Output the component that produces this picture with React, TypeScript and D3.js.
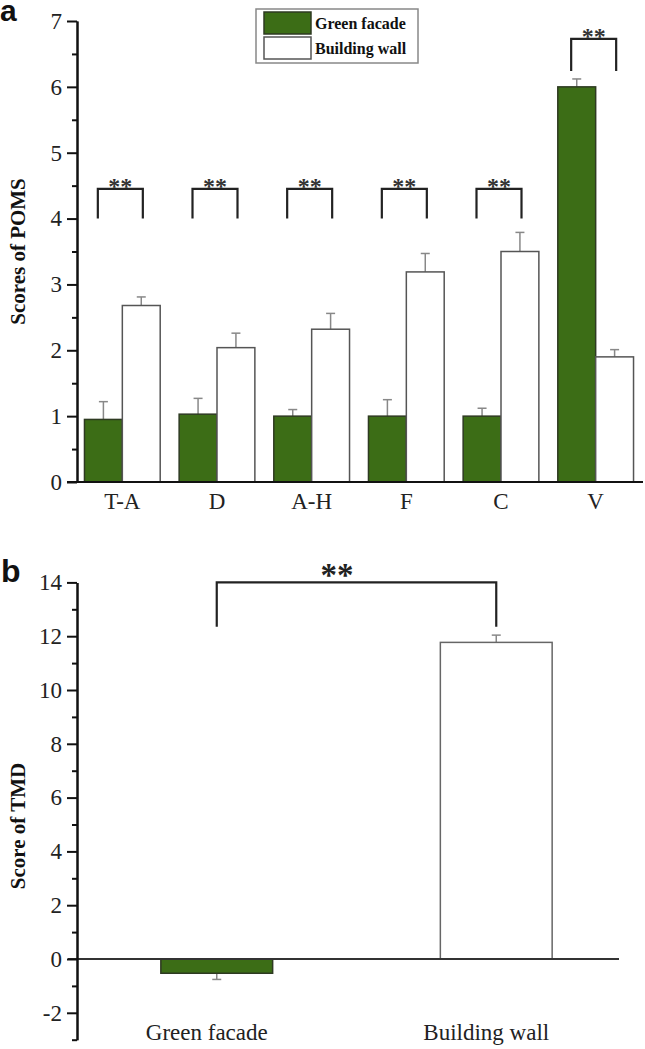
import { useEffect, useRef } from "react";
import * as d3 from "d3";

const WIDTH = 645;
const HEIGHT = 1049;

// panel a: POMS subscales
const poms = ["T-A", "D", "A-H", "F", "C", "V"];
const greenFacade = [0.95, 1.03, 1.0, 1.0, 1.0, 6.0];
const greenFacadeErr = [0.27, 0.24, 0.1, 0.25, 0.12, 0.12];
const buildingWall = [2.68, 2.04, 2.32, 3.19, 3.5, 1.9];
const buildingWallErr = [0.13, 0.22, 0.24, 0.28, 0.29, 0.11];
const bracketLow = [4.0, 4.0, 4.0, 4.0, 4.0, 6.24];
const bracketHigh = [4.45, 4.45, 4.45, 4.45, 4.45, 6.73];
const seriesNames = ["Green facade", "Building wall"];

// panel b: TMD
const tmdGroups = ["Green facade", "Building wall"];
const tmdValues = [-0.53, 11.77];
const tmdErr = [0.23, 0.27];
const tmdBracket = [12.35, 14];

const GREEN = "#3c6d16";
const SERIF = "'Liberation Serif', 'Times New Roman', serif";
const SANS = "'Liberation Sans', Arial, sans-serif";

const AXIS_X = 77;

export default function App() {
  const axisARef = useRef<SVGGElement>(null);
  const axisBRef = useRef<SVGGElement>(null);

  // Panel a scales
  const yA = d3.scaleLinear().domain([0, 7]).range([482, 21]);
  const xA = d3.scaleBand().domain(poms).range([75, 643]).paddingInner(0.2).paddingOuter(0.1);
  const subA = d3.scaleBand().domain(seriesNames).range([0, xA.bandwidth()]);

  // Panel b scales
  const yB = d3.scaleLinear().domain([-3, 14]).range([1039.7, 582.4]);
  const xB = d3.scaleBand().domain(tmdGroups).range([77, 636]).paddingInner(0.6).paddingOuter(0.3);

  useEffect(() => {
    const styleAxis = (sel: d3.Selection<SVGGElement, unknown, null, undefined>) => {
      sel.select(".domain").attr("stroke", "#111").attr("stroke-width", 2);
      sel.selectAll(".tick line").attr("stroke", "#111").attr("stroke-width", 2);
      sel
        .selectAll(".tick text")
        .attr("fill", "#222")
        .style("font-family", SERIF)
        .style("font-size", "23px");
    };

    const a = d3.select(axisARef.current);
    a.selectAll("*").remove();
    a.append("g")
      .call(d3.axisLeft(yA).tickValues(d3.range(0.5, 7, 1)).tickSize(5).tickSizeOuter(0).tickFormat(() => ""))
      .call(styleAxis);
    a.append("g")
      .call(d3.axisLeft(yA).tickValues(d3.range(0, 8, 1)).tickSize(10).tickSizeOuter(0).tickPadding(5).tickFormat((d) => String(d)))
      .call(styleAxis);

    const b = d3.select(axisBRef.current);
    b.selectAll("*").remove();
    b.append("g")
      .call(d3.axisLeft(yB).tickValues(d3.range(-3, 14, 2)).tickSize(5).tickSizeOuter(0).tickFormat(() => ""))
      .call(styleAxis);
    b.append("g")
      .call(d3.axisLeft(yB).tickValues(d3.range(-2, 15, 2)).tickSize(10).tickSizeOuter(0).tickPadding(5).tickFormat((d) => String(d)))
      .call(styleAxis);
  }, [yA, yB]);

  const barsA = poms.map((cat, i) => {
    const x0 = xA(cat) ?? 0;
    const vals = [greenFacade[i], buildingWall[i]];
    const errs = [greenFacadeErr[i], buildingWallErr[i]];
    return (
      <g key={cat}>
        {seriesNames.map((s, j) => {
          const bx = x0 + (subA(s) ?? 0);
          const cx = bx + subA.bandwidth() / 2;
          return (
            <g key={s}>
              <line x1={cx} x2={cx} y1={yA(vals[j])} y2={yA(vals[j] + errs[j])} stroke="#888" strokeWidth={1.5} />
              <line x1={cx - 4.5} x2={cx + 4.5} y1={yA(vals[j] + errs[j])} y2={yA(vals[j] + errs[j])} stroke="#888" strokeWidth={1.5} />
              <rect
                x={bx}
                y={yA(vals[j])}
                width={subA.bandwidth()}
                height={yA(0) - yA(vals[j])}
                fill={j === 0 ? GREEN : "#fff"}
                stroke={j === 0 ? "#2e3a22" : "#555"}
                strokeWidth={1.5}
              />
            </g>
          );
        })}
      </g>
    );
  });

  const bracketsA = poms.map((cat, i) => {
    const c = (xA(cat) ?? 0) + xA.bandwidth() / 2 - 2;
    const top = yA(bracketHigh[i]);
    const low = yA(bracketLow[i]);
    return (
      <g key={cat}>
        <path
          d={`M${c - 22.5},${low}V${top}H${c + 22.5}V${low}`}
          fill="none"
          stroke="#222"
          strokeWidth={2.2}
        />
        <text x={c} y={top + 5} textAnchor="middle" fontFamily={SERIF} fontWeight="bold" fontSize={24} fill="#333">
          **
        </text>
      </g>
    );
  });

  const barsB = tmdGroups.map((g, i) => {
    const bx = xB(g) ?? 0;
    const cx = bx + xB.bandwidth() / 2;
    const v = tmdValues[i];
    const ev = v < 0 ? v - tmdErr[i] : v + tmdErr[i];
    return (
      <g key={g}>
        <line x1={cx} x2={cx} y1={yB(v)} y2={yB(ev)} stroke="#888" strokeWidth={1.5} />
        <line x1={cx - 4.5} x2={cx + 4.5} y1={yB(ev)} y2={yB(ev)} stroke="#888" strokeWidth={1.5} />
        <rect
          x={bx}
          y={Math.min(yB(v), yB(0))}
          width={xB.bandwidth()}
          height={Math.abs(yB(v) - yB(0))}
          fill={i === 0 ? GREEN : "#fff"}
          stroke={i === 0 ? "#2e3a22" : "#666"}
          strokeWidth={1.5}
        />
      </g>
    );
  });

  const bL = (xB(tmdGroups[0]) ?? 0) + xB.bandwidth() / 2;
  const bR = (xB(tmdGroups[1]) ?? 0) + xB.bandwidth() / 2;

  return (
    <svg
      width={WIDTH}
      height={HEIGHT}
      style={{ position: "absolute", left: 0, top: 0, background: "#fff" }}
    >
      {/* panel a */}
      <text x={0} y={21} fontFamily={SANS} fontWeight="bold" fontSize={30} fill="#111">
        a
      </text>
      {barsA}
      {bracketsA}
      <line x1={67} x2={643} y1={yA(0)} y2={yA(0)} stroke="#111" strokeWidth={2} />
      <g ref={axisARef} transform={`translate(${AXIS_X},0)`} />
      {poms.map((cat) => (
        <text
          key={cat}
          x={(xA(cat) ?? 0) + xA.bandwidth() / 2}
          y={509}
          textAnchor="middle"
          fontFamily={SERIF}
          fontSize={23}
          fill="#222"
        >
          {cat}
        </text>
      ))}
      <text
        transform={`translate(25,${(yA(0) + yA(7)) / 2}) rotate(-90)`}
        textAnchor="middle"
        fontFamily={SERIF}
        fontWeight="bold"
        fontSize={21}
        fill="#111"
      >
        Scores of POMS
      </text>

      {/* legend */}
      <g>
        <rect x={256} y={9} width={162} height={54} fill="#fff" stroke="#888" strokeWidth={1.5} />
        {seriesNames.map((s, j) => (
          <g key={s}>
            <rect
              x={264}
              y={12 + j * 25}
              width={47}
              height={22}
              fill={j === 0 ? GREEN : "#fff"}
              stroke={j === 0 ? "#2e3a22" : "#555"}
              strokeWidth={1.5}
            />
            <text x={315} y={29 + j * 25} fontFamily={SERIF} fontWeight="bold" fontSize={16} fill="#111">
              {s}
            </text>
          </g>
        ))}
      </g>

      {/* panel b */}
      <text x={1} y={582} fontFamily={SANS} fontWeight="bold" fontSize={32} fill="#111">
        b
      </text>
      {barsB}
      <path
        d={`M${bL},${yB(tmdBracket[0])}V${yB(tmdBracket[1])}H${bR}V${yB(tmdBracket[0])}`}
        fill="none"
        stroke="#222"
        strokeWidth={2.2}
      />
      <text x={337} y={yB(tmdBracket[1]) + 4} textAnchor="middle" fontFamily={SERIF} fontWeight="bold" fontSize={33} fill="#222">
        **
      </text>
      <line x1={68} x2={619} y1={yB(0)} y2={yB(0)} stroke="#333" strokeWidth={2} />
      <g ref={axisBRef} transform={`translate(${AXIS_X},0)`} />
      {tmdGroups.map((g) => (
        <text
          key={g}
          x={(xB(g) ?? 0) + xB.bandwidth() / 2 - 10}
          y={1040}
          textAnchor="middle"
          fontFamily={SERIF}
          fontSize={23}
          fill="#222"
        >
          {g}
        </text>
      ))}
      <text
        transform={`translate(25,826) rotate(-90)`}
        textAnchor="middle"
        fontFamily={SERIF}
        fontWeight="bold"
        fontSize={21}
        fill="#111"
      >
        Score of TMD
      </text>
    </svg>
  );
}
